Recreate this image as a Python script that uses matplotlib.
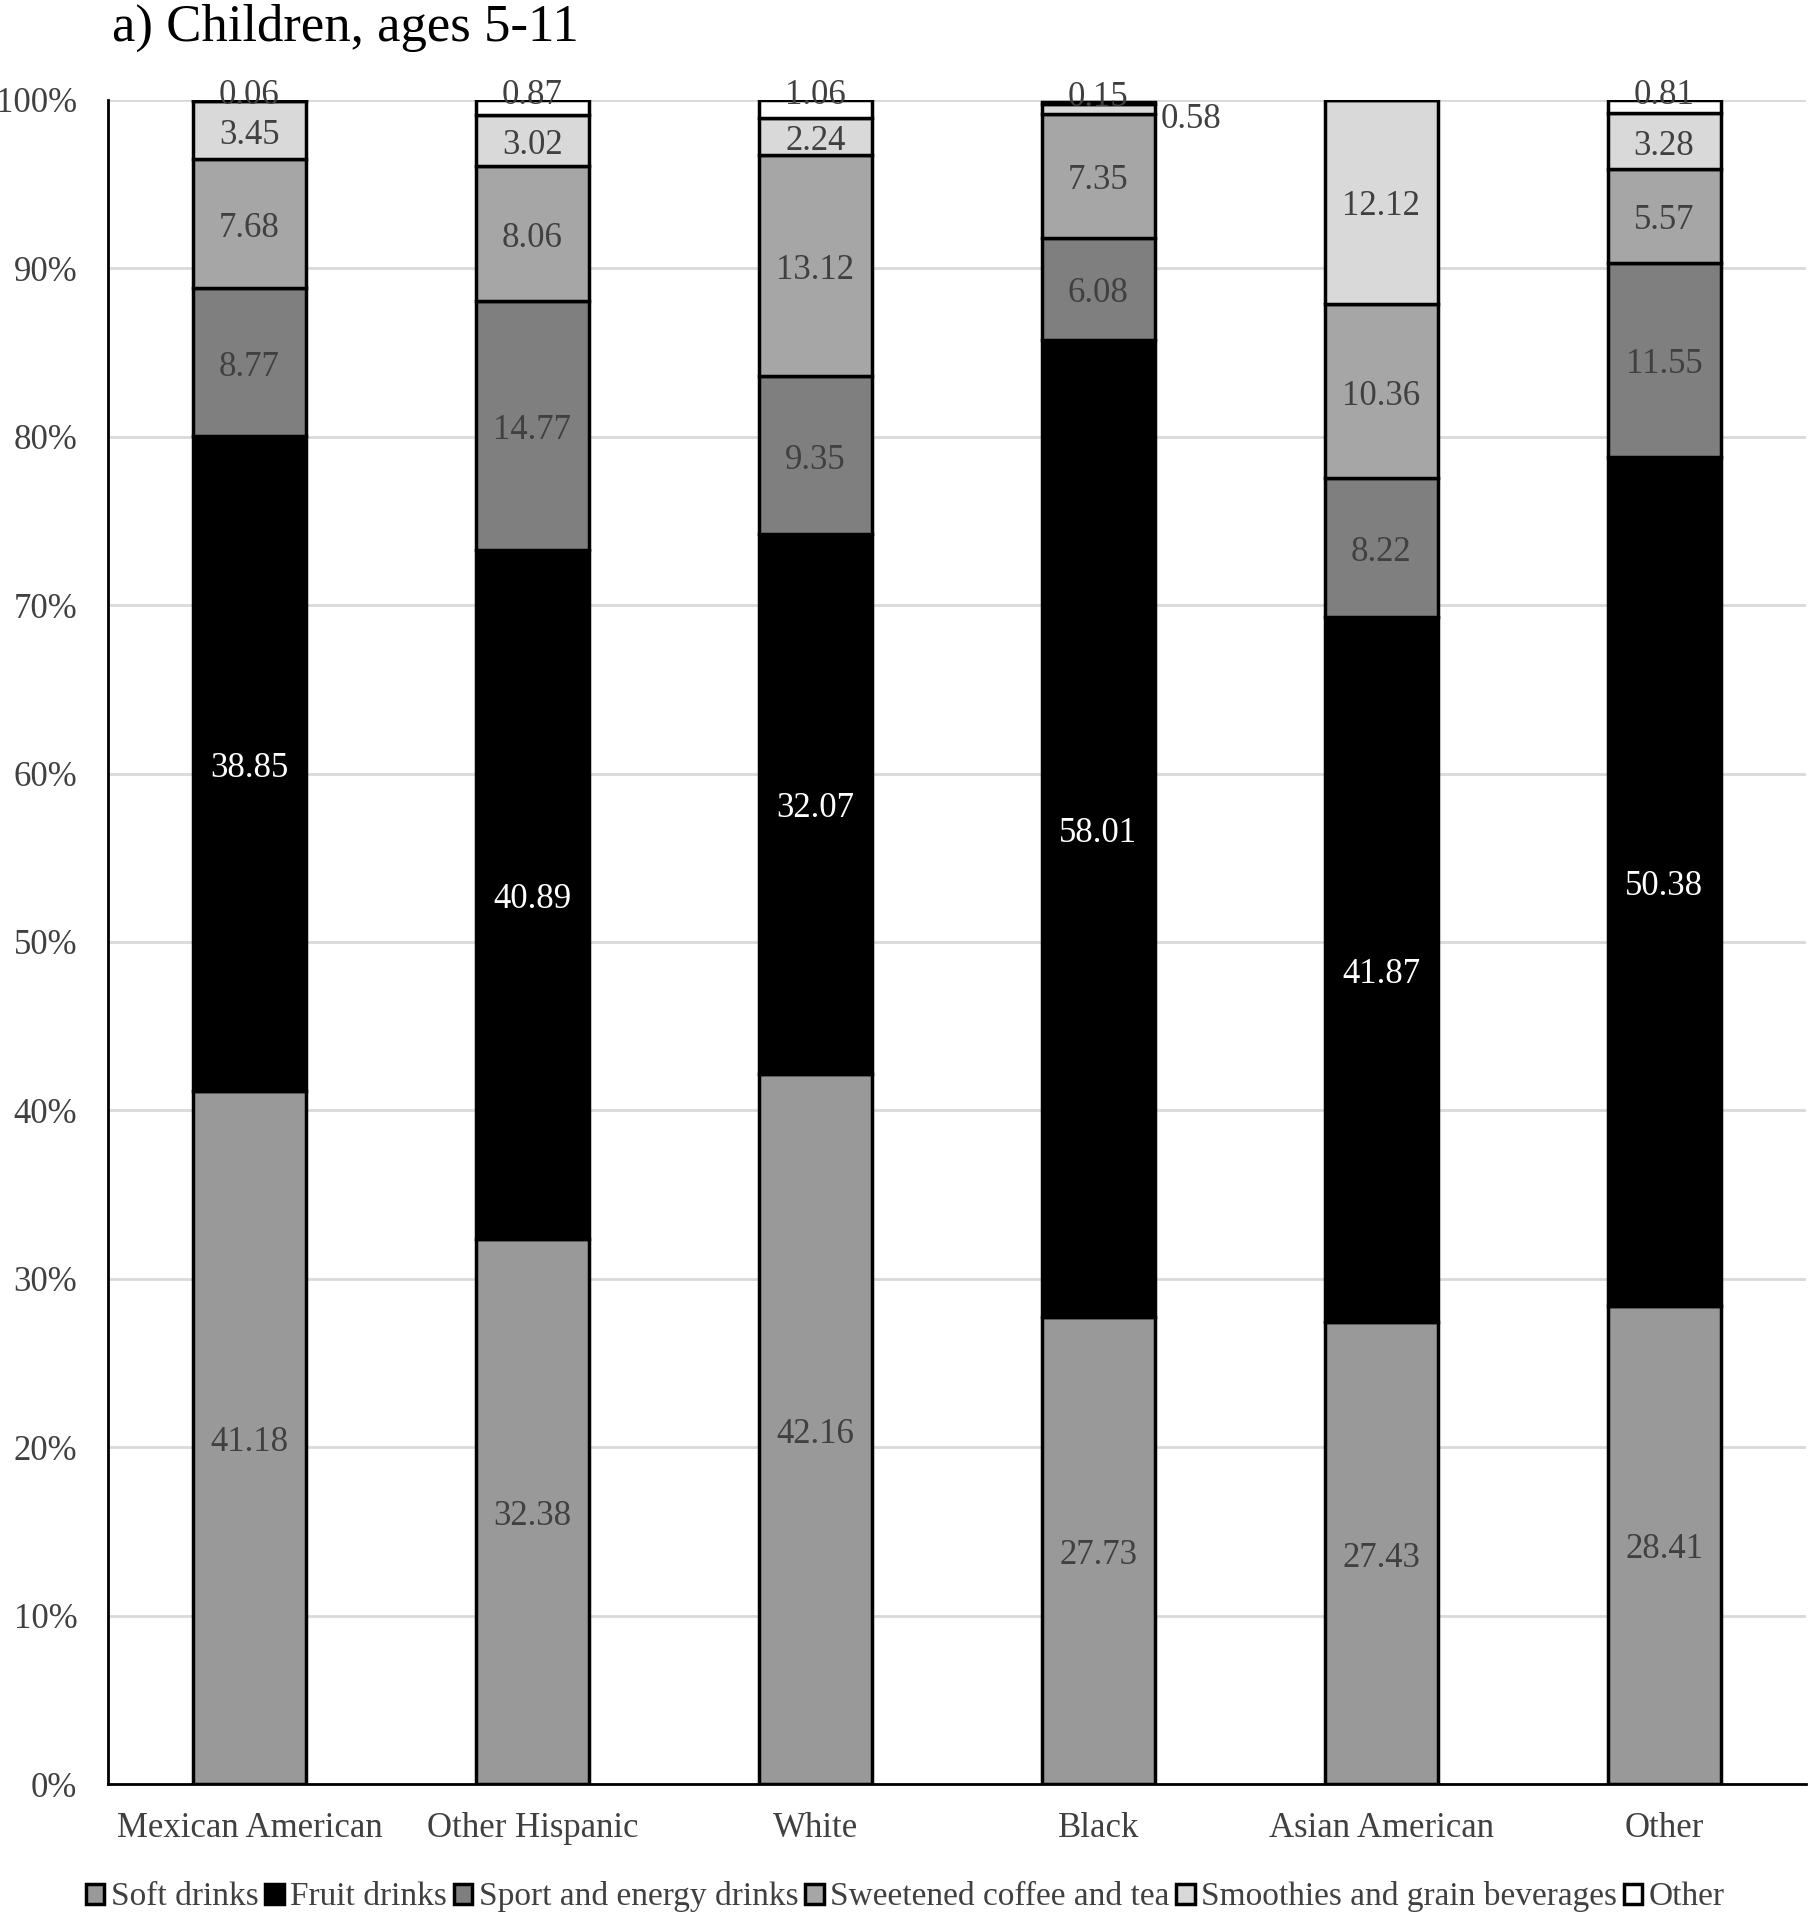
import numpy as np
import matplotlib.pyplot as plt
from matplotlib.patches import Patch

plt.rcParams['font.family'] = ['Liberation Serif', 'DejaVu Serif']

groups = ["Mexican American", "Other Hispanic", "White", "Black", "Asian American", "Other"]
series = ["Soft drinks", "Fruit drinks", "Sport and energy drinks",
          "Sweetened coffee and tea", "Smoothies and grain beverages", "Other"]

soft = [41.18, 32.38, 42.16, 27.73, 27.43, 28.41]
fruit = [38.85, 40.89, 32.07, 58.01, 41.87, 50.38]
sport = [8.77, 14.77, 9.35, 6.08, 8.22, 11.55]
coffee = [7.68, 8.06, 13.12, 7.35, 10.36, 5.57]
smooth = [3.45, 3.02, 2.24, 0.58, 12.12, 3.28]
other = [0.06, 0.87, 1.06, 0.15, 0.0, 0.81]

values = [soft, fruit, sport, coffee, smooth, other]
colors = ["#999999", "#000000", "#7f7f7f", "#a6a6a6", "#d9d9d9", "#ffffff"]
txt = "#404040"
fs = 25

fig = plt.figure(figsize=(18.11, 19.2), dpi=100)
ax = fig.add_axes([0.0596, 0.0708, 0.9374, 0.8772])

x = np.arange(len(groups))
bottom = np.zeros(len(groups))
for i, (vals, c) in enumerate(zip(values, colors)):
    vals = np.array(vals)
    ax.bar(x, vals, 0.4, bottom=bottom, color=c, edgecolor="black", linewidth=2.5, zorder=3)
    for j, v in enumerate(vals):
        if v == 0:
            continue
        mid = bottom[j] + v / 2 - 0.3
        if i == 5:
            ax.text(x[j], bottom[j] + v - 0.25, f"{v:.2f}", ha="center", va="baseline",
                    fontsize=fs, color=txt, zorder=4)
        elif i == 4 and groups[j] == "Black":
            ax.text(x[j] + 0.22, mid - 0.3, f"{v:.2f}", ha="left", va="center",
                    fontsize=fs, color=txt, zorder=4)
        else:
            ax.text(x[j], mid, f"{v:.2f}", ha="center", va="center", fontsize=fs,
                    color="white" if i == 1 else txt, zorder=4)
    bottom += vals

ax.set_xlim(-0.5, len(groups) - 0.5)
ax.set_ylim(0, 100)
ax.set_yticks(np.arange(0, 101, 10))
ax.set_yticklabels([f"{t}%" for t in range(0, 101, 10)])
ax.set_xticks(x)
ax.set_xticklabels(groups)
ax.tick_params(axis="both", length=0, labelsize=fs, labelcolor=txt)
ax.tick_params(axis="x", pad=20)
ax.tick_params(axis="y", pad=22)
ax.yaxis.grid(True, color="#d9d9d9", linewidth=2)
ax.set_axisbelow(True)
for s in ["top", "right"]:
    ax.spines[s].set_visible(False)
for s in ["left", "bottom"]:
    ax.spines[s].set_linewidth(2)
    ax.spines[s].set_color("black")

fig.text(0.062, 0.998, "a) Children, ages 5-11", fontsize=38, color="black", va="top", ha="left")

handles = [Patch(facecolor=c, edgecolor="black", linewidth=2.5) for c in colors]
fig.legend(handles, series, loc="center", bbox_to_anchor=(0.5, 0.012), ncol=6, frameon=False,
           fontsize=24, handlelength=0.55, handleheight=0.55, handletextpad=0.2,
           columnspacing=0.2, labelcolor=txt)

fig.savefig("out.png", dpi=100)
